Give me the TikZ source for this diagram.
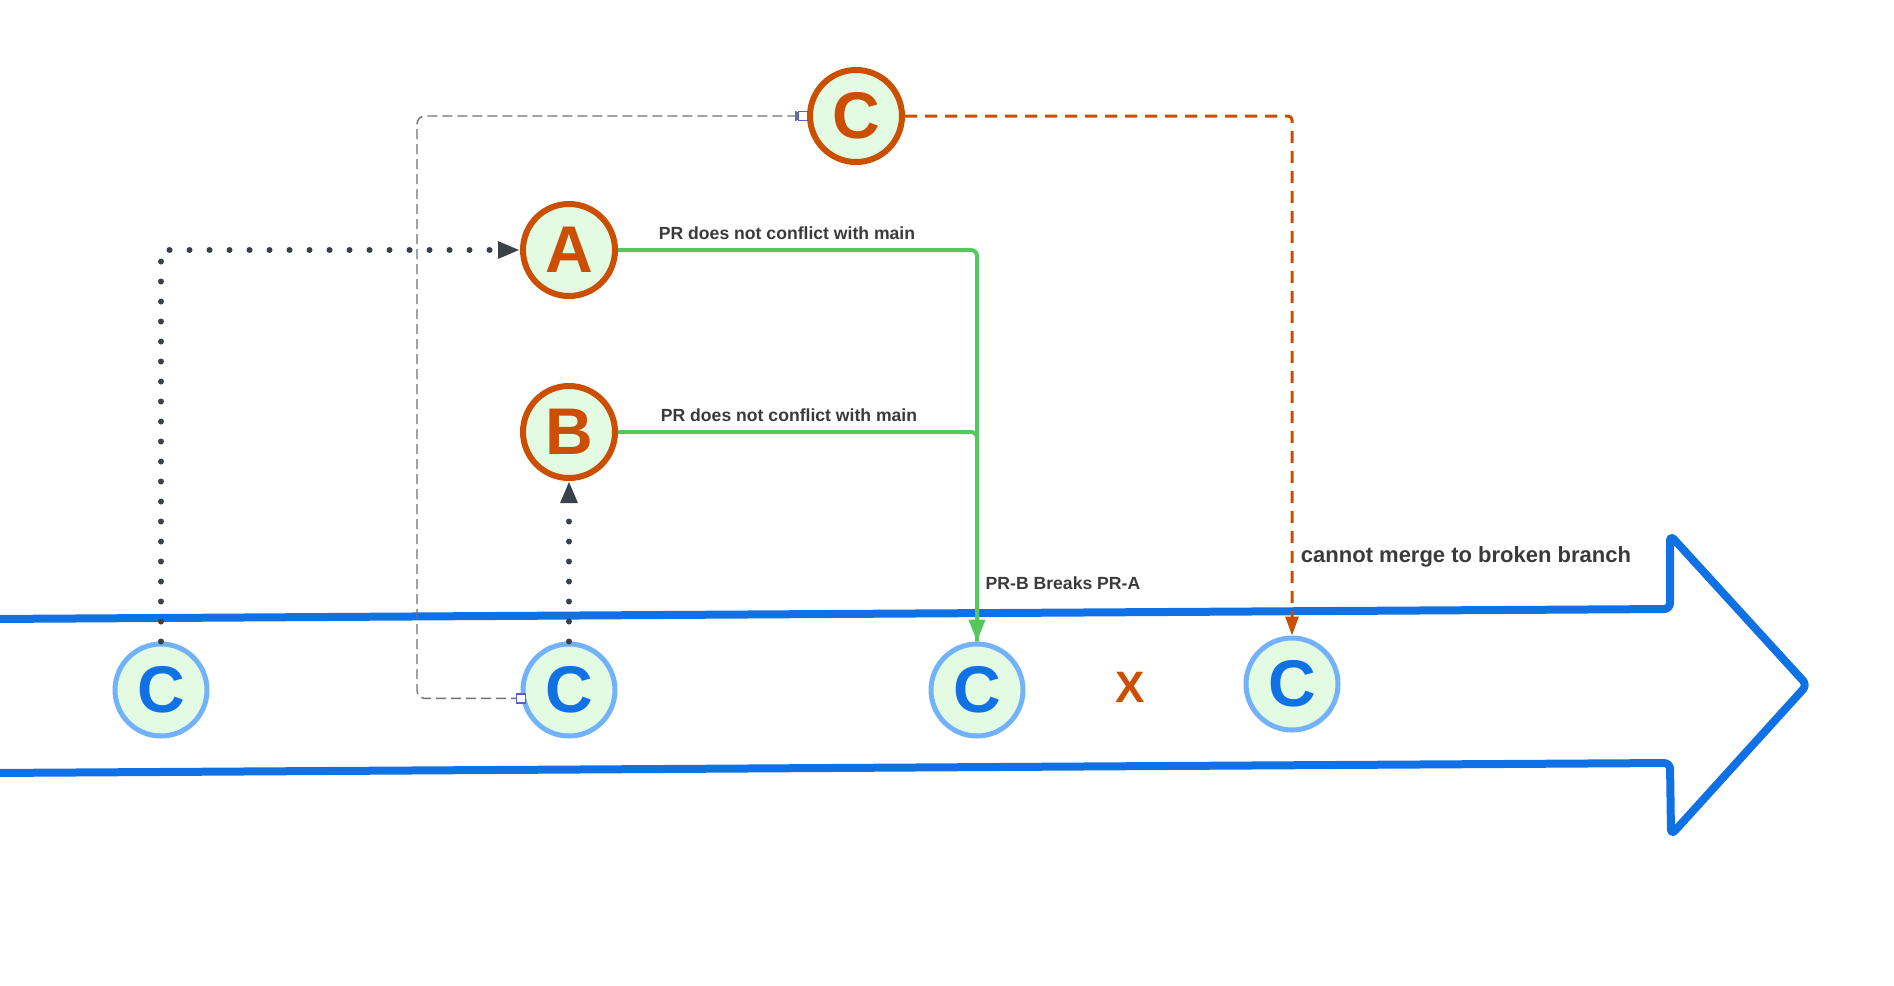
\documentclass[tikz,border=0pt]{standalone}
\usepackage{fontspec}
\setmainfont{Liberation Sans}
\usetikzlibrary{arrows.meta}
\definecolor{mainblue}{HTML}{1071E5}
\definecolor{ringblue}{HTML}{72B2FA}
\definecolor{fillgreen}{HTML}{E3FAE3}
\definecolor{prorange}{HTML}{CC4E00}
\definecolor{prgreen}{HTML}{56C65E}
\definecolor{dotgray}{HTML}{3A414A}
\definecolor{ghostgray}{HTML}{6B717A}
\definecolor{handleblue}{HTML}{5B5BD6}
\definecolor{textgray}{HTML}{3A3A3A}
\begin{document}
\begin{tikzpicture}[x=0.5pt,y=-0.5pt,
        commit/.style={circle, draw=ringblue, fill=fillgreen, line width=2.5pt, minimum size=46pt, inner sep=0pt, text=mainblue, font=\fontsize{33}{33}\selectfont\bfseries},
        pr/.style={commit, draw=prorange, line width=3pt, text=prorange},
        lbl/.style={text=textgray, inner sep=0pt, font=\fontsize{8.8}{10}\selectfont\bfseries},
        dots/.style={dotgray, line width=3pt, line cap=round, dash pattern=on 0pt off 10pt, -{Triangle[length=11pt,width=8pt]}},
        merge/.style={prgreen, line width=2pt, rounded corners=3pt},
        ghost/.style={ghostgray, line width=0.7pt, dash pattern=on 5pt off 2.5pt, rounded corners=4pt, -{Triangle[length=6pt,width=5pt]}},
        blocked/.style={prorange, line width=1.5pt, dash pattern=on 6pt off 4pt, rounded corners=2pt, -{Triangle[length=9.5pt,width=6.5pt]}},
        handle/.style={draw=handleblue, fill=white, line width=0.6pt, minimum size=4.5pt, inner sep=0pt}]
        \useasboundingbox (0,0) rectangle (1894,985);

        \draw[mainblue, line width=4pt, line join=round, rounded corners=3pt]
            (-10,619) -- (1670,609) -- (1670,535) -- (1807,685) -- (1671,835) -- (1670,763) -- (-10,773);

        \node[commit] (m1) at (161,690) {C};
        \node[commit] (m2) at (569,690) {C};
        \node[commit] (m3) at (977,690) {C};
        \node[commit] (m4) at (1292,684) {C};

        \node[pr] (a) at (569,250) {A};
        \node[pr] (b) at (569,432) {B};
        \node[pr] (c) at (856,116) {C};

        \node[text=prorange, font=\fontsize{22}{22}\selectfont\bfseries] (x) at (1130,687) {X};

        \coordinate (g) at (417,698);
        \draw[ghost] (m2.190) -- (m2.190 -| g) |- (c.west);
        \node[handle] (h1) at (m2.190) {};
        \node[handle] (h2) at ([xshift=-2pt]c.west) {};

        \draw[dots] (m1.north) |- (a.west);
        \draw[dots] (m2.north) -- (b.south);

        \draw[merge] (b.east) -| (m3.north);
        \draw[merge, -{Triangle[length=11pt,width=8pt]}] (a.east) -| (m3.north);

        \draw[blocked] (c.east) -| (m4.north);

        \node[lbl] (la) at (787,233) {PR does not conflict with main};
        \node[lbl] (lb) at (789,415) {PR does not conflict with main};
        \node[lbl] (lm) at (1063,583) {PR-B Breaks PR-A};
        \node[lbl, font=\fontsize{11}{13}\selectfont\bfseries] (lc) at (1466,557) {cannot merge to broken branch};

    \end{tikzpicture}
\end{document}
